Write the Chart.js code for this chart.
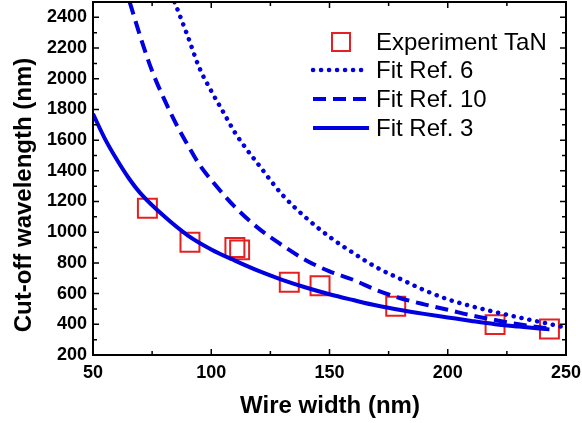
<!DOCTYPE html>
<html lang="en">
<head>
<meta charset="UTF-8">
<title>Cut-off wavelength vs wire width</title>
<script src="https://cdn.jsdelivr.net/npm/chart.js"></script>
<style>
  html, body { margin: 0; padding: 0; background: #fff; }
</style>
</head>
<body>
<canvas id="cutoffChart" width="582" height="423"></canvas>
<script>
// measured points
const expWidth  = [73, 91, 110, 112, 133, 146, 178, 220, 243];
const expCutoff = [1156, 934, 901, 885, 674, 651, 518, 398, 369];

// fit curves
const ref6Width = [84.5, 90, 95, 100, 105, 110, 115, 120, 130, 140, 150, 160, 170, 180, 190, 200, 210, 220, 230, 240, 250];
const ref6Cutoff = [2500, 2280, 2070, 1920, 1785, 1650, 1540, 1440, 1245, 1095, 970, 865, 770, 695, 623, 563, 518, 480, 445, 412, 378];

const ref10Width = [65.5, 70, 75, 80, 85, 90, 95, 100, 110, 120, 130, 140, 150, 160, 170, 180, 190, 200, 210, 220, 230, 243];
const ref10Cutoff = [2500, 2275, 2050, 1870, 1710, 1570, 1440, 1340, 1165, 1025, 915, 818, 745, 690, 622, 570, 530, 495, 458, 428, 400, 371];

const ref3Width = [50, 55, 60, 65, 70, 80, 90, 100, 110, 120, 130, 140, 150, 160, 170, 180, 190, 200, 210, 220, 230, 243];
const ref3Cutoff = [1771, 1610, 1475, 1355, 1255, 1105, 980, 888, 815, 748, 690, 640, 596, 558, 522, 493, 468, 445, 422, 401, 385, 367];

const xTicks = [50, 100, 150, 200, 250];
const xMinorTicks = [75, 125, 175, 225];
const yTicks = [200, 400, 600, 800, 1000, 1200, 1400, 1600, 1800, 2000, 2200, 2400];
const yMinorTicks = [300, 500, 700, 900, 1100, 1300, 1500, 1700, 1900, 2100, 2300, 2500];

const BLUE = '#0000e0';
const RED = '#e62020';
const FONT = "'Liberation Sans', Arial, sans-serif";

function pairs(xs, ys) {
  return xs.map((x, i) => ({ x: x, y: ys[i] }));
}

// frame + inward ticks on all four sides
const frameTicks = {
  id: 'frameTicks',
  afterDatasetsDraw(chart) {
    const { ctx, chartArea: a, scales: { x, y } } = chart;
    ctx.save();
    ctx.strokeStyle = '#000';
    ctx.lineWidth = 1.5;
    ctx.beginPath();
    const xt = (v, len) => {
      const px = x.getPixelForValue(v);
      ctx.moveTo(px, a.bottom); ctx.lineTo(px, a.bottom - len);
      ctx.moveTo(px, a.top); ctx.lineTo(px, a.top + len);
    };
    const yt = (v, len) => {
      const py = y.getPixelForValue(v);
      ctx.moveTo(a.left, py); ctx.lineTo(a.left + len, py);
      ctx.moveTo(a.right, py); ctx.lineTo(a.right - len, py);
    };
    xTicks.forEach(v => xt(v, 6));
    xMinorTicks.forEach(v => xt(v, 4));
    yTicks.forEach(v => yt(v, 6));
    yMinorTicks.forEach(v => yt(v, 4));
    ctx.stroke();
    ctx.lineWidth = 2;
    ctx.strokeRect(a.left, a.top, a.right - a.left, a.bottom - a.top);
    ctx.restore();
  }
};

// axis titles + legend inside the plot
const labelsLegend = {
  id: 'labelsLegend',
  afterDraw(chart) {
    const ctx = chart.ctx;
    ctx.save();
    ctx.fillStyle = '#000';
    ctx.font = 'bold 24px ' + FONT;
    ctx.textAlign = 'center';
    ctx.textBaseline = 'middle';
    ctx.fillText('Wire width (nm)', 330, 406);
    ctx.save();
    ctx.translate(24, 195);
    ctx.rotate(-Math.PI / 2);
    ctx.fillText('Cut-off wavelength (nm)', 0, 0);
    ctx.restore();

    const rows = [42, 70, 99, 128];
    ctx.font = '24px ' + FONT;
    ctx.textAlign = 'left';
    chart.data.datasets.forEach((ds, i) => {
      const yy = rows[i];
      if (ds.showLine === false) {
        ctx.strokeStyle = ds.pointBorderColor;
        ctx.lineWidth = ds.pointBorderWidth;
        ctx.strokeRect(332, yy - 9, 18, 18);
      } else {
        ctx.strokeStyle = ds.borderColor;
        ctx.lineWidth = ds.borderWidth;
        ctx.lineCap = ds.borderCapStyle || 'butt';
        ctx.setLineDash(ds.borderDash || []);
        ctx.beginPath();
        ctx.moveTo(313, yy);
        ctx.lineTo(369, yy);
        ctx.stroke();
        ctx.setLineDash([]);
      }
      ctx.fillStyle = '#000';
      ctx.fillText(ds.label, 376, yy + 1);
    });
    ctx.restore();
  }
};

new Chart(document.getElementById('cutoffChart'), {
  type: 'line',
  data: {
    datasets: [
      {
        label: 'Experiment TaN',
        data: pairs(expWidth, expCutoff),
        showLine: false,
        pointStyle: 'rect',
        pointRadius: 13.4,
        pointBorderColor: RED,
        pointBorderWidth: 2,
        pointBackgroundColor: 'rgba(0,0,0,0)',
        order: 10
      },
      {
        label: 'Fit Ref. 6',
        data: pairs(ref6Width, ref6Cutoff),
        borderColor: BLUE,
        borderWidth: 4.5,
        borderDash: [0.1, 7.9],
        borderCapStyle: 'round',
        pointRadius: 0,
        cubicInterpolationMode: 'monotone',
        order: 3
      },
      {
        label: 'Fit Ref. 10',
        data: pairs(ref10Width, ref10Cutoff),
        borderColor: BLUE,
        borderWidth: 4,
        borderDash: [13, 7],
        pointRadius: 0,
        cubicInterpolationMode: 'monotone',
        order: 2
      },
      {
        label: 'Fit Ref. 3',
        data: pairs(ref3Width, ref3Cutoff),
        borderColor: BLUE,
        borderWidth: 4,
        pointRadius: 0,
        cubicInterpolationMode: 'monotone',
        order: 1
      }
    ]
  },
  options: {
    responsive: false,
    animation: false,
    devicePixelRatio: 1,
    layout: { autoPadding: false, padding: { left: 0, right: 16, top: 2, bottom: 0 } },
    plugins: { legend: { display: false }, tooltip: { enabled: false } },
    scales: {
      x: {
        type: 'linear',
        min: 50,
        max: 250,
        afterBuildTicks: s => { s.ticks = xTicks.map(v => ({ value: v })); },
        afterFit: s => { s.height = 68; s.paddingLeft = 0; s.paddingRight = 0; },
        grid: { display: false, drawTicks: false, tickLength: 0 },
        border: { display: true, color: '#000', width: 2 },
        ticks: { color: '#000', padding: 7, font: { family: FONT, size: 18, weight: 'bold' }, callback: v => String(v) }
      },
      y: {
        type: 'linear',
        min: 200,
        max: 2500,
        afterBuildTicks: s => { s.ticks = yTicks.map(v => ({ value: v })); },
        afterFit: s => { s.width = 93; s.paddingTop = 0; s.paddingBottom = 0; },
        grid: { display: false, drawTicks: false, tickLength: 0 },
        border: { display: true, color: '#000', width: 2 },
        ticks: { color: '#000', padding: 6, font: { family: FONT, size: 18, weight: 'bold' }, callback: v => String(v) }
      }
    }
  },
  plugins: [frameTicks, labelsLegend]
});
</script>
</body>
</html>
